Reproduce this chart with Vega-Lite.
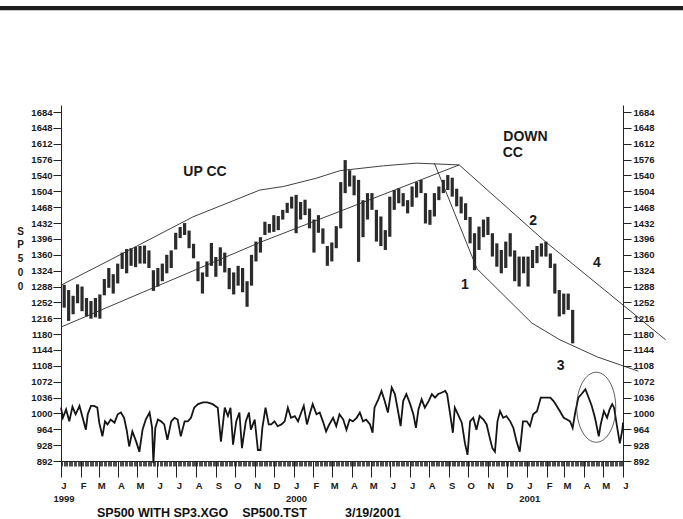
{
  "$schema": "https://vega.github.io/schema/vega-lite/v6.json",
  "width": 562,
  "height": 356,
  "autosize": "none",
  "padding": {"left": 61, "top": 105, "right": 60, "bottom": 58},
  "background": "#ffffff",
  "config": {
    "view": {"stroke": null},
    "font": "Liberation Sans",
    "axis": {
      "labelFont": "Liberation Sans",
      "labelFontWeight": "bold",
      "labelFontSize": 9.5,
      "labelColor": "#1a1a1a",
      "tickColor": "#222222",
      "domainColor": "#222222",
      "grid": false,
      "titleFont": "Liberation Sans"
    }
  },
  "title": {
    "text": "SP500 WITH SP3.XGO\u00a0\u00a0\u00a0 SP500.TST\u00a0\u00a0\u00a0\u00a0\u00a0\u00a0\u00a0\u00a0\u00a0\u00a0 3/19/2001",
    "orient": "bottom",
    "anchor": "start",
    "frame": "group",
    "dx": 36,
    "offset": 4,
    "font": "Liberation Sans",
    "fontSize": 12.5,
    "fontWeight": "bold",
    "color": "#111111"
  },
  "datasets": {
    "bar": [{"a": "1998-09-01", "b": "2001-10-01", "v": 1920}],
    "price": [
      {"d":"1999-01-06","l":1240,"h":1292},{"d":"1999-01-13","l":1210,"h":1280},{"d":"1999-01-20","l":1225,"h":1267},{"d":"1999-01-27","l":1250,"h":1293},
      {"d":"1999-02-03","l":1232,"h":1288},{"d":"1999-02-10","l":1220,"h":1262},{"d":"1999-02-17","l":1215,"h":1255},{"d":"1999-02-24","l":1218,"h":1262},
      {"d":"1999-03-03","l":1215,"h":1270},{"d":"1999-03-10","l":1268,"h":1305},{"d":"1999-03-17","l":1285,"h":1330},{"d":"1999-03-24","l":1272,"h":1316},
      {"d":"1999-03-31","l":1295,"h":1340},{"d":"1999-04-07","l":1328,"h":1365},{"d":"1999-04-14","l":1318,"h":1373},{"d":"1999-04-21","l":1335,"h":1375},
      {"d":"1999-04-28","l":1332,"h":1378},{"d":"1999-05-05","l":1340,"h":1380},{"d":"1999-05-12","l":1340,"h":1381},{"d":"1999-05-19","l":1330,"h":1370},
      {"d":"1999-05-26","l":1278,"h":1325},{"d":"1999-06-02","l":1288,"h":1330},{"d":"1999-06-09","l":1300,"h":1340},{"d":"1999-06-16","l":1318,"h":1360},
      {"d":"1999-06-23","l":1330,"h":1370},{"d":"1999-06-30","l":1372,"h":1410},{"d":"1999-07-07","l":1398,"h":1423},{"d":"1999-07-14","l":1405,"h":1432},
      {"d":"1999-07-21","l":1375,"h":1415},{"d":"1999-07-28","l":1352,"h":1385},{"d":"1999-08-04","l":1300,"h":1345},{"d":"1999-08-11","l":1272,"h":1320},
      {"d":"1999-08-18","l":1310,"h":1345},{"d":"1999-08-25","l":1335,"h":1387},{"d":"1999-09-01","l":1310,"h":1355},{"d":"1999-09-08","l":1335,"h":1377},
      {"d":"1999-09-15","l":1320,"h":1365},{"d":"1999-09-22","l":1282,"h":1330},{"d":"1999-09-29","l":1270,"h":1320},{"d":"1999-10-06","l":1290,"h":1335},
      {"d":"1999-10-13","l":1275,"h":1330},{"d":"1999-10-20","l":1242,"h":1300},{"d":"1999-10-27","l":1290,"h":1360},{"d":"1999-11-03","l":1345,"h":1390},
      {"d":"1999-11-10","l":1365,"h":1400},{"d":"1999-11-17","l":1405,"h":1435},{"d":"1999-11-24","l":1410,"h":1430},{"d":"1999-12-01","l":1412,"h":1450},
      {"d":"1999-12-08","l":1416,"h":1448},{"d":"1999-12-15","l":1440,"h":1462},{"d":"1999-12-22","l":1455,"h":1478},{"d":"1999-12-29","l":1465,"h":1492},
      {"d":"2000-01-05","l":1409,"h":1496},{"d":"2000-01-12","l":1440,"h":1480},{"d":"2000-01-19","l":1450,"h":1485},{"d":"2000-01-26","l":1420,"h":1465},
      {"d":"2000-02-02","l":1365,"h":1440},{"d":"2000-02-09","l":1410,"h":1450},{"d":"2000-02-16","l":1385,"h":1420},{"d":"2000-02-23","l":1335,"h":1380},
      {"d":"2000-03-01","l":1345,"h":1388},{"d":"2000-03-08","l":1375,"h":1425},{"d":"2000-03-15","l":1420,"h":1525},{"d":"2000-03-22","l":1500,"h":1575},
      {"d":"2000-03-29","l":1515,"h":1552},{"d":"2000-04-05","l":1495,"h":1540},{"d":"2000-04-12","l":1344,"h":1530},{"d":"2000-04-19","l":1400,"h":1484},
      {"d":"2000-04-26","l":1440,"h":1500},{"d":"2000-05-03","l":1462,"h":1500},{"d":"2000-05-10","l":1390,"h":1462},{"d":"2000-05-17","l":1380,"h":1447},
      {"d":"2000-05-24","l":1371,"h":1416},{"d":"2000-05-31","l":1401,"h":1492},{"d":"2000-06-07","l":1462,"h":1507},{"d":"2000-06-14","l":1477,"h":1511},
      {"d":"2000-06-21","l":1470,"h":1500},{"d":"2000-06-28","l":1454,"h":1484},{"d":"2000-07-05","l":1469,"h":1515},{"d":"2000-07-12","l":1490,"h":1525},
      {"d":"2000-07-19","l":1500,"h":1530},{"d":"2000-07-26","l":1431,"h":1500},{"d":"2000-08-02","l":1428,"h":1462},{"d":"2000-08-09","l":1447,"h":1500},
      {"d":"2000-08-16","l":1484,"h":1515},{"d":"2000-08-23","l":1500,"h":1530},{"d":"2000-08-30","l":1507,"h":1541},{"d":"2000-09-06","l":1492,"h":1535},
      {"d":"2000-09-13","l":1470,"h":1510},{"d":"2000-09-20","l":1454,"h":1492},{"d":"2000-09-27","l":1439,"h":1477},{"d":"2000-10-04","l":1386,"h":1446},
      {"d":"2000-10-11","l":1325,"h":1409},{"d":"2000-10-18","l":1371,"h":1424},{"d":"2000-10-25","l":1400,"h":1440},{"d":"2000-11-01","l":1405,"h":1446},
      {"d":"2000-11-08","l":1356,"h":1409},{"d":"2000-11-15","l":1333,"h":1386},{"d":"2000-11-22","l":1318,"h":1371},{"d":"2000-11-29","l":1330,"h":1390},
      {"d":"2000-12-06","l":1356,"h":1409},{"d":"2000-12-13","l":1300,"h":1370},{"d":"2000-12-20","l":1288,"h":1356},{"d":"2000-12-27","l":1318,"h":1356},
      {"d":"2001-01-03","l":1288,"h":1356},{"d":"2001-01-10","l":1330,"h":1371},{"d":"2001-01-17","l":1341,"h":1380},{"d":"2001-01-24","l":1356,"h":1386},
      {"d":"2001-01-31","l":1356,"h":1390},{"d":"2001-02-07","l":1330,"h":1363},{"d":"2001-02-14","l":1272,"h":1340},{"d":"2001-02-21","l":1220,"h":1280},
      {"d":"2001-02-28","l":1225,"h":1272},{"d":"2001-03-07","l":1235,"h":1272},{"d":"2001-03-14","l":1159,"h":1235}
    ],
    "osc": [
      {"d":"1999-01-01","v":1013},{"d":"1999-01-04","v":990},{"d":"1999-01-09","v":1009},{"d":"1999-01-14","v":982},{"d":"1999-01-19","v":1015},
      {"d":"1999-01-24","v":998},{"d":"1999-01-30","v":1017},{"d":"1999-02-04","v":990},{"d":"1999-02-09","v":963},{"d":"1999-02-12","v":998},
      {"d":"1999-02-17","v":1017},{"d":"1999-02-22","v":1017},{"d":"1999-02-27","v":1013},{"d":"1999-03-02","v":979},{"d":"1999-03-07","v":948},
      {"d":"1999-03-11","v":982},{"d":"1999-03-15","v":975},{"d":"1999-03-20","v":986},{"d":"1999-03-26","v":979},{"d":"1999-03-31","v":998},
      {"d":"1999-04-05","v":1002},{"d":"1999-04-10","v":990},{"d":"1999-04-14","v":963},{"d":"1999-04-18","v":925},{"d":"1999-04-23","v":959},
      {"d":"1999-04-29","v":936},{"d":"1999-05-04","v":913},{"d":"1999-05-09","v":963},{"d":"1999-05-14","v":986},{"d":"1999-05-20","v":1002},
      {"d":"1999-05-24","v":967},{"d":"1999-05-26","v":887},{"d":"1999-05-29","v":967},{"d":"1999-06-02","v":986},{"d":"1999-06-07","v":982},
      {"d":"1999-06-12","v":975},{"d":"1999-06-17","v":940},{"d":"1999-06-23","v":982},{"d":"1999-06-28","v":990},{"d":"1999-07-03","v":986},
      {"d":"1999-07-08","v":948},{"d":"1999-07-14","v":982},{"d":"1999-07-19","v":982},{"d":"1999-07-24","v":990},{"d":"1999-07-29","v":1013},
      {"d":"1999-08-04","v":1021},{"d":"1999-08-12","v":1025},{"d":"1999-08-19","v":1025},{"d":"1999-08-27","v":1021},{"d":"1999-09-04","v":1013},
      {"d":"1999-09-09","v":936},{"d":"1999-09-15","v":1013},{"d":"1999-09-20","v":994},{"d":"1999-09-24","v":1013},{"d":"1999-09-28","v":929},
      {"d":"1999-10-03","v":982},{"d":"1999-10-08","v":1002},{"d":"1999-10-12","v":921},{"d":"1999-10-18","v":982},{"d":"1999-10-23","v":1002},
      {"d":"1999-10-26","v":963},{"d":"1999-11-01","v":986},{"d":"1999-11-06","v":917},{"d":"1999-11-10","v":917},{"d":"1999-11-13","v":967},
      {"d":"1999-11-18","v":1013},{"d":"1999-11-23","v":975},{"d":"1999-11-27","v":975},{"d":"1999-12-02","v":982},{"d":"1999-12-07","v":971},
      {"d":"1999-12-13","v":975},{"d":"1999-12-18","v":982},{"d":"1999-12-23","v":1013},{"d":"1999-12-28","v":990},{"d":"2000-01-03","v":994},
      {"d":"2000-01-08","v":982},{"d":"2000-01-13","v":1002},{"d":"2000-01-17","v":1017},{"d":"2000-01-22","v":975},{"d":"2000-01-27","v":1002},
      {"d":"2000-01-31","v":1021},{"d":"2000-02-06","v":998},{"d":"2000-02-11","v":1002},{"d":"2000-02-16","v":982},{"d":"2000-02-21","v":959},
      {"d":"2000-02-26","v":975},{"d":"2000-03-03","v":990},{"d":"2000-03-08","v":971},{"d":"2000-03-13","v":998},{"d":"2000-03-19","v":986},
      {"d":"2000-03-24","v":963},{"d":"2000-03-29","v":986},{"d":"2000-04-03","v":982},{"d":"2000-04-09","v":990},{"d":"2000-04-14","v":1002},
      {"d":"2000-04-19","v":982},{"d":"2000-04-24","v":986},{"d":"2000-04-30","v":975},{"d":"2000-05-04","v":956},{"d":"2000-05-07","v":1013},
      {"d":"2000-05-13","v":1032},{"d":"2000-05-18","v":1051},{"d":"2000-05-23","v":1028},{"d":"2000-05-28","v":1002},{"d":"2000-06-03","v":1059},
      {"d":"2000-06-08","v":1044},{"d":"2000-06-13","v":1005},{"d":"2000-06-17","v":971},{"d":"2000-06-21","v":1028},{"d":"2000-06-26","v":1044},
      {"d":"2000-07-02","v":1021},{"d":"2000-07-07","v":998},{"d":"2000-07-11","v":967},{"d":"2000-07-15","v":1009},{"d":"2000-07-20","v":1032},
      {"d":"2000-07-25","v":1013},{"d":"2000-07-31","v":1028},{"d":"2000-08-05","v":1044},{"d":"2000-08-10","v":1036},{"d":"2000-08-15","v":1044},
      {"d":"2000-08-20","v":1047},{"d":"2000-08-26","v":1051},{"d":"2000-08-29","v":1044},{"d":"2000-09-02","v":1005},{"d":"2000-09-07","v":956},
      {"d":"2000-09-10","v":1013},{"d":"2000-09-15","v":998},{"d":"2000-09-21","v":979},{"d":"2000-09-26","v":932},{"d":"2000-09-30","v":906},
      {"d":"2000-10-04","v":982},{"d":"2000-10-09","v":990},{"d":"2000-10-14","v":963},{"d":"2000-10-19","v":994},{"d":"2000-10-25","v":986},
      {"d":"2000-10-30","v":975},{"d":"2000-11-04","v":944},{"d":"2000-11-08","v":921},{"d":"2000-11-12","v":913},{"d":"2000-11-16","v":982},
      {"d":"2000-11-20","v":1005},{"d":"2000-11-25","v":990},{"d":"2000-11-30","v":994},{"d":"2000-12-06","v":982},{"d":"2000-12-11","v":967},
      {"d":"2000-12-16","v":936},{"d":"2000-12-21","v":913},{"d":"2000-12-26","v":982},{"d":"2001-01-01","v":982},{"d":"2001-01-06","v":971},
      {"d":"2001-01-11","v":998},{"d":"2001-01-17","v":1005},{"d":"2001-01-23","v":1036},{"d":"2001-01-30","v":1036},{"d":"2001-02-07","v":1036},
      {"d":"2001-02-12","v":1028},{"d":"2001-02-17","v":1017},{"d":"2001-02-22","v":1005},{"d":"2001-02-28","v":990},{"d":"2001-03-05","v":986},
      {"d":"2001-03-10","v":982},{"d":"2001-03-14","v":967},{"d":"2001-03-18","v":1002},{"d":"2001-03-23","v":1036},{"d":"2001-03-28","v":1044},
      {"d":"2001-04-03","v":1055},{"d":"2001-04-08","v":1036},{"d":"2001-04-13","v":1017},{"d":"2001-04-18","v":990},{"d":"2001-04-24","v":948},
      {"d":"2001-04-27","v":975},{"d":"2001-05-02","v":1005},{"d":"2001-05-07","v":990},{"d":"2001-05-11","v":1009},{"d":"2001-05-15","v":1021},
      {"d":"2001-05-18","v":1013},{"d":"2001-05-23","v":967},{"d":"2001-05-27","v":932},{"d":"2001-05-31","v":963},{"d":"2001-06-01","v":979}
    ],
    "lines": [
      {"g":"A","d":"1999-01-01","v":1291},{"g":"A","d":"1999-04-13","v":1367},{"g":"A","d":"1999-07-27","v":1446},{"g":"A","d":"1999-11-09","v":1507},
      {"g":"A","d":"1999-12-16","v":1515},{"g":"A","d":"2000-02-06","v":1534},{"g":"A","d":"2000-03-14","v":1551},{"g":"A","d":"2000-05-21","v":1562},
      {"g":"A","d":"2000-07-12","v":1568},{"g":"A","d":"2000-09-17","v":1564},
      {"g":"B","d":"1999-01-01","v":1196},{"g":"B","d":"1999-11-09","v":1388},{"g":"B","d":"2000-09-17","v":1564},
      {"g":"C","d":"2000-08-09","v":1568},{"g":"C","d":"2000-10-15","v":1328},
      {"g":"D","d":"2000-10-15","v":1328},{"g":"D","d":"2001-01-09","v":1205},{"g":"D","d":"2001-02-22","v":1167},{"g":"D","d":"2001-04-22","v":1128},{"g":"D","d":"2001-06-25","v":1096},
      {"g":"E","d":"2000-09-17","v":1564},{"g":"E","d":"2001-01-30","v":1390},{"g":"E","d":"2001-08-07","v":1167}
    ],
    "ring": [{"d":"2001-04-20","v":1014}],
    "notes": [
      {"t":"UP CC","d":"1999-08-15","v":1548},
      {"t":"DOWN","d":"2000-12-30","v":1628},
      {"t":"CC","d":"2000-12-10","v":1591},
      {"t":"1","d":"2000-09-26","v":1291},
      {"t":"2","d":"2001-01-11","v":1437},
      {"t":"3","d":"2001-02-23","v":1108},
      {"t":"4","d":"2001-04-21","v":1341}
    ]
  },
  "layer": [
    {
      "data": {"name": "bar"},
      "mark": {"type": "rule", "color": "#1e1e1e", "strokeWidth": 4.3},
      "encoding": {
        "x": {"field": "a", "type": "temporal", "axis": null,
              "scale": {"type": "utc", "nice": false, "domain": [{"year":1999,"month":1,"date":1,"utc":true},{"year":2001,"month":6,"date":1,"utc":true}]}},
        "x2": {"field": "b"},
        "y": {"field": "v", "type": "quantitative", "axis": null,
              "scale": {"domain": [892, 1700], "nice": false, "zero": false}}
      }
    },
    {
      "data": {"name": "lines"},
      "mark": {"type": "line", "color": "#2a2a2a", "strokeWidth": 0.9},
      "encoding": {
        "x": {"field": "d", "type": "temporal", "axis": null,
              "scale": {"type": "utc", "nice": false, "domain": [{"year":1999,"month":1,"date":1,"utc":true},{"year":2001,"month":6,"date":1,"utc":true}]}},
        "y": {"field": "v", "type": "quantitative", "axis": null,
              "scale": {"domain": [892, 1700], "nice": false, "zero": false}},
        "detail": {"field": "g"}
      }
    },
    {
      "data": {"name": "price"},
      "mark": {"type": "rule", "color": "#2b2b2b", "strokeWidth": 3.2},
      "encoding": {
        "x": {"field": "d", "type": "temporal",
              "scale": {"type": "utc", "nice": false, "domain": [{"year":1999,"month":1,"date":1,"utc":true},{"year":2001,"month":6,"date":1,"utc":true}]},
              "axis": {"orient": "bottom", "title": null, "tickCount": {"interval": "month", "step": 1},
                       "tickSize": 16, "tickWidth": 1, "labelPadding": 3, "labelOffset": 2.5, "labelFontSize": 9.5,
                       "labelLineHeight": 13, "labelBaseline": "top", "labelFlush": false, "labelOverlap": false,
                       "domainWidth": 1,
                       "labelExpr": "utcmonth(datum.value) == 0 ? [substring(utcFormat(datum.value, '%b'), 0, 1), utcFormat(datum.value, '%Y')] : substring(utcFormat(datum.value, '%b'), 0, 1)"}},
        "y": {"field": "l", "type": "quantitative",
              "scale": {"domain": [892, 1700], "nice": false, "zero": false},
              "axis": {"orient": "left", "format": "d", "values": [892,928,964,1000,1036,1072,1108,1144,1180,1216,1252,1288,1324,1360,1396,1432,1468,1504,1540,1576,1612,1648,1684],
                       "tickSize": 8, "labelPadding": 1, "domainWidth": 1,
                       "title": ["S", "P", "5", "0", "0"], "titleAngle": 0, "titleX": -41, "titleY": 126,
                       "titleAlign": "center", "titleBaseline": "middle", "titleLineHeight": 13.75,
                       "titleFontSize": 10, "titleFontWeight": "bold", "titleColor": "#1a1a1a"}},
        "y2": {"field": "h"}
      }
    },
    {
      "data": {"name": "osc"},
      "mark": {"type": "line", "color": "#151515", "strokeWidth": 1.8},
      "encoding": {
        "x": {"field": "d", "type": "temporal",
              "scale": {"type": "utc", "nice": false, "domain": [{"year":1999,"month":1,"date":1,"utc":true},{"year":2001,"month":6,"date":1,"utc":true}]},
              "axis": {"orient": "bottom", "title": null, "tickCount": {"interval": "day", "step": 2},
                       "tickSize": 5, "tickWidth": 0.8, "labels": false, "domain": false}},
        "y": {"field": "v", "type": "quantitative",
              "scale": {"domain": [892, 1700], "nice": false, "zero": false},
              "axis": {"orient": "right", "format": "d", "values": [892,928,964,1000,1036,1072,1108,1144,1180,1216,1252,1288,1324,1360,1396,1432,1468,1504,1540,1576,1612,1648,1684],
                       "tickSize": 8, "labelPadding": 2, "domainWidth": 1, "title": null}}
      }
    },
    {
      "data": {"name": "ring"},
      "mark": {"type": "point", "shape": "M -0.557 0 A 0.557 1 0 1 0 0.557 0 A 0.557 1 0 1 0 -0.557 0 Z", "size": 4900, "filled": false, "color": "#333333", "strokeWidth": 0.8, "opacity": 1},
      "encoding": {
        "x": {"field": "d", "type": "temporal", "axis": null,
              "scale": {"type": "utc", "nice": false, "domain": [{"year":1999,"month":1,"date":1,"utc":true},{"year":2001,"month":6,"date":1,"utc":true}]}},
        "y": {"field": "v", "type": "quantitative", "axis": null,
              "scale": {"domain": [892, 1700], "nice": false, "zero": false}}
      }
    },
    {
      "data": {"name": "notes"},
      "mark": {"type": "text", "font": "Liberation Sans", "fontSize": 14, "fontWeight": "bold", "color": "#1a1a1a", "align": "center", "baseline": "middle"},
      "encoding": {
        "x": {"field": "d", "type": "temporal", "axis": null,
              "scale": {"type": "utc", "nice": false, "domain": [{"year":1999,"month":1,"date":1,"utc":true},{"year":2001,"month":6,"date":1,"utc":true}]}},
        "y": {"field": "v", "type": "quantitative", "axis": null,
              "scale": {"domain": [892, 1700], "nice": false, "zero": false}},
        "text": {"field": "t"}
      }
    }
  ],
  "resolve": {"axis": {"x": "independent", "y": "independent"}}
}
